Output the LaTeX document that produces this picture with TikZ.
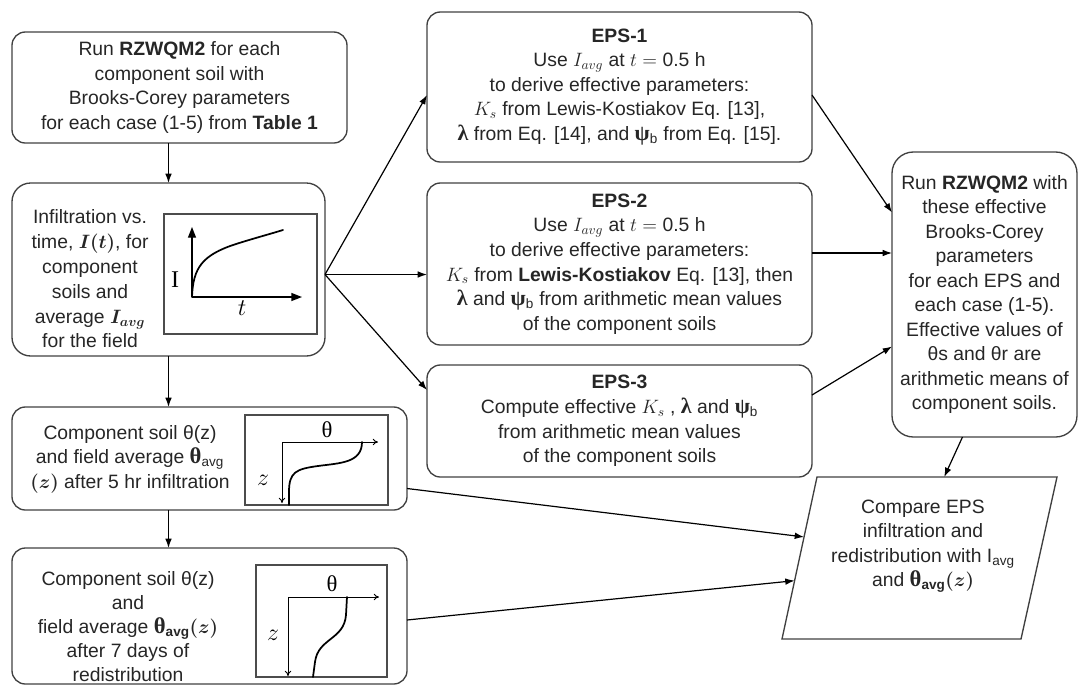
\RequirePackage{fix-cm}
\documentclass[tikz,border=0pt]{standalone}
\usepackage{amsmath}
\usepackage{bm}
\usepackage{fontspec}
\setmainfont{Liberation Sans}
\newfontfamily\seriffont{Liberation Serif}
\usetikzlibrary{arrows.meta,calc}
% upright bold Greek as in the source figure
\newcommand{\bftheta}{{\seriffont\bfseries\fontsize{17}{17}\selectfont θ}}
\newcommand{\bflambda}{{\seriffont\bfseries\fontsize{16.5}{16.5}\selectfont λ}}
\newcommand{\bfpsi}{{\seriffont\bfseries\fontsize{16.5}{16.5}\selectfont ψ}\textsubscript{b}}

\begin{document}
\begin{tikzpicture}[x=0.75pt,y=0.75pt,yscale=-1,xscale=1,
  rbox/.style={draw=black!75,line width=1pt,rounded corners=10pt,inner sep=0pt,outer sep=0pt,align=center,text=black!85,font=\fontsize{14.5}{18.4}\selectfont},
  txt/.style={inner sep=0pt,align=center,text=black!85,font=\fontsize{14.5}{18.4}\selectfont},
  plotframe/.style={draw=black!70,line width=0.9pt},
  plotcurve/.style={line width=1.3pt,line cap=round},
  axisbig/.style={line width=1pt,-{Triangle[length=8pt,width=6pt]}},
  axisthin/.style={line width=0.7pt,-{To[length=4pt,width=5pt]}},
  flow/.style={line width=0.9pt,-{Latex[length=7pt,width=5pt]}}]
\useasboundingbox (0,0) rectangle (1079,687);

%Rounded Rect: first model runs
\node[rbox,minimum width=251.25pt,minimum height=83.25pt] (runA) at (179.5,87.5) {Run \textbf{RZWQM2} for each\\component soil with\\Brooks-Corey parameters\\for each case (1-5) from \textbf{Table 1}};

%Rounded Rect: infiltration curves
\node[rbox,rounded corners=14pt,minimum width=234.75pt,minimum height=129.75pt] (infl) at (168.5,269.5) {};
\node[txt,font=\fontsize{14.5}{18.6}\selectfont] (infltxt) at (90,279) {Infiltration vs.\\time, $\bm{I(t)}$, for\\component\\soils and\\average $\bm{I_{avg}}$\\for the field};
%Shape: Rectangle
\draw[plotframe] (164,214) rectangle (317,334);
\draw[axisbig] (192,297) -- (192,227);
\draw[axisbig] (192,297) -- (302,297);
%Curve Lines
\draw[plotcurve] (192,297) .. controls (193,268) and (202,255) .. (236,244) .. controls (255,238) and (270,234) .. (283,230);
\node[inner sep=0pt] (lblI) at (175,280) {\seriffont\fontsize{18}{18}\selectfont I};
\node[inner sep=0pt] (lblt) at (242,308) {\fontsize{18}{18}\selectfont$t$};

%Rounded Rect: moisture profile after infiltration
\node[rbox,minimum width=296.25pt,minimum height=77.25pt] (prof) at (209.5,458.5) {};
\node[txt] (proftxt) at (130,459) {Component soil θ(z)\\and field average \bftheta\textsubscript{avg}\\$\bm{(z)}$ after 5 hr infiltration};
%Shape: Rectangle
\draw[plotframe] (245,415) rectangle (388,505);
\draw[axisthin] (282,442) -- (378,442);
\draw[axisthin] (282,442) -- (282,503);
%Curve Lines
\draw[plotcurve] (362,442) .. controls (362,463) and (340,463) .. (318,466) .. controls (296,469) and (289,472) .. (289,492) -- (289,505);
\node[inner sep=0pt] (lblthA) at (327,430) {\seriffont\fontsize{17}{17}\selectfont θ};
\node[inner sep=0pt] (lblzA) at (263,480) {\fontsize{18}{18}\selectfont$z$};

%Rounded Rect: moisture profile after redistribution
\node[rbox,minimum width=296.25pt,minimum height=102pt] (redis) at (209.5,616) {};
\node[txt,font=\fontsize{14.5}{18}\selectfont] (redistxt) at (128,627) {Component soil θ(z)\\and\\field average \bftheta\textsubscript{\textbf{avg}}$\bm{(z)}$\\after 7 days of\\redistribution};
%Shape: Rectangle
\draw[plotframe] (256,565) rectangle (387,677);
\draw[axisthin] (288,597) -- (379,597);
\draw[axisthin] (288,597) -- (288,676);
%Curve Lines
\draw[plotcurve] (347,597) -- (346,615) .. controls (344,640) and (318,638) .. (315,662) -- (313,677);
\node[inner sep=0pt] (lblthB) at (332,584) {\seriffont\fontsize{17}{17}\selectfont θ};
\node[inner sep=0pt] (lblzB) at (273,635) {\fontsize{18}{18}\selectfont$z$};

%Rounded Rect: effective parameter schemes
\node[rbox,minimum width=288.75pt,minimum height=112.5pt] (eps1) at (619.5,87) {\textbf{EPS-1}\\Use $I_{avg}$ at $t = \text{0.5 h}$\\to derive effective parameters:\\$K_s$ from Lewis-Kostiakov Eq. [13],\\\bflambda{} from Eq. [14], and \bfpsi{} from Eq. [15].};
\node[rbox,minimum width=288.75pt,minimum height=121.5pt] (eps2) at (619.5,264) {\textbf{EPS-2}\\Use $I_{avg}$ at $t = \text{0.5 h}$\\to derive effective parameters:\\$K_s$ from \textbf{Lewis-Kostiakov} Eq. [13], then\\\bflambda{} and \bfpsi{} from arithmetic mean values\\of the component soils};
\node[rbox,minimum width=288.75pt,minimum height=84pt] (eps3) at (619.5,421) {\textbf{EPS-3}\\Compute effective $K_s$ , \bflambda{} and \bfpsi\\from arithmetic mean values\\of the component soils};

%Rounded Rect: runs with effective values
\node[rbox,rounded corners=16pt,minimum width=138.75pt,minimum height=213.75pt] (rzwqm) at (984.5,294.5) {Run \textbf{RZWQM2} with\\these effective\\Brooks-Corey\\parameters\\for each EPS and\\each case (1-5).\\Effective values of\\θs and θr are\\arithmetic means of\\component soils.};

%Shape: Parallelogram
\coordinate (cmpTL) at (817,477);
\coordinate (cmpTR) at (1057,477);
\coordinate (cmpBR) at (1021,639);
\coordinate (cmpBL) at (782,639);
\draw[draw=black!75,line width=1pt] (cmpTL) -- (cmpTR) -- (cmpBR) -- (cmpBL) -- cycle;
\node[txt] (cmptxt) at (923,546) {Compare EPS\\infiltration and\\redistribution with I\textsubscript{avg}\\and \bftheta\textsubscript{\textbf{avg}}$\bm{(z)}$};

%Straight Lines
\draw[flow] (runA.south -| infl.north) -- (infl.north);
\draw[flow] (infl.south) -- (infl.south |- prof.north);
\draw[flow] (prof.south -| infl.south) -- (redis.north -| infl.south);
\coordinate (fork) at ($(infl.east)+(0,5)$);
\draw[flow] (fork) -- ($(eps1.west)+(0,8)$);
\draw[flow] (fork) -- (fork -| eps2.west);
\draw[flow] (fork) -- ($(eps3.west)+(0,-31)$);
\draw[flow] ($(eps1.east)+(0,8)$) -- ($(rzwqm.west)+(0,-82)$);
\coordinate (e2out) at ($(eps2.east)+(0,-11)$);
\draw[flow] (e2out) -- (e2out -| rzwqm.west);
\draw[flow] ($(eps3.east)+(0,-26)$) -- ($(rzwqm.west)+(0,52)$);
\draw[flow] ($(rzwqm.south)+(-22,0)$) -- ($(cmpTL)!0.53!(cmpTR)$);
\draw[flow] ($(prof.east)+(0,30)$) -- ($(cmpTL)!0.37!(cmpBL)$);
\draw[flow] ($(redis.east)+(0,4)$) -- ($(cmpTL)!0.64!(cmpBL)$);

\end{tikzpicture}
\end{document}
